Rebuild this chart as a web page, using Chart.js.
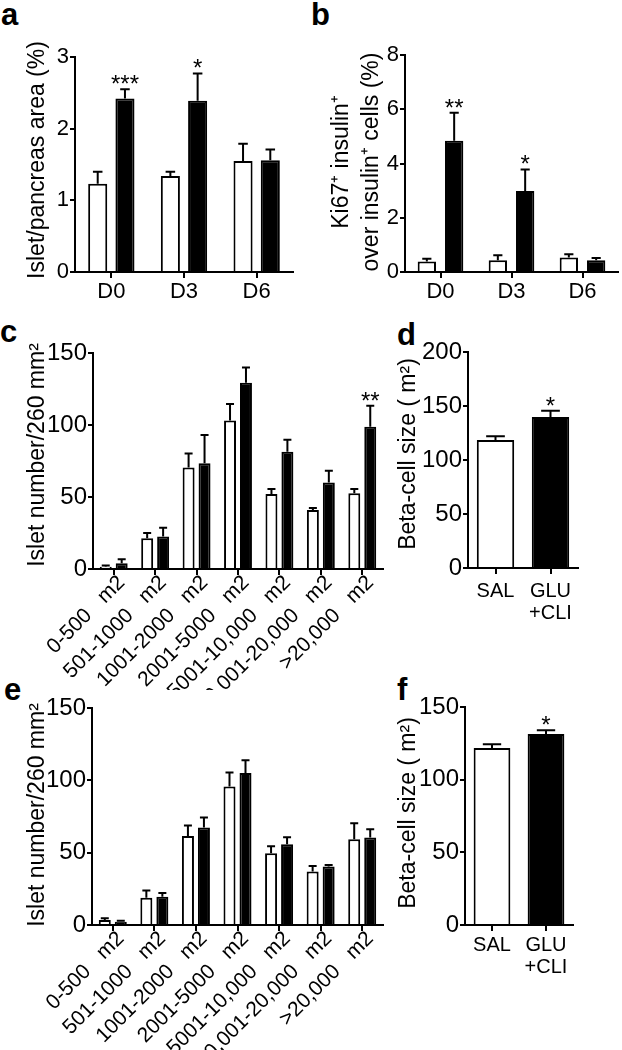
<!DOCTYPE html>
<html>
<head>
<meta charset="utf-8">
<script src="https://cdn.jsdelivr.net/npm/chart.js@4.4.1/dist/chart.umd.min.js"></script>
<style>
  html, body { margin: 0; padding: 0; background: #fff; }
  #page { position: relative; width: 622px; height: 1050px; overflow: hidden; }
  canvas { position: absolute; }
  .lbl { position: absolute; font: bold 31px "Liberation Sans", Arial, sans-serif; line-height: 31px; color: #000; }
</style>
</head>
<body>
<div id="page">
  <div class="lbl" style="left:1px;top:-1px">a</div>
  <div class="lbl" style="left:311px;top:-1px">b</div>
  <div class="lbl" style="left:0px;top:316px">c</div>
  <div class="lbl" style="left:397px;top:319px">d</div>
  <div class="lbl" style="left:4px;top:674px">e</div>
  <div class="lbl" style="left:397px;top:674px">f</div>

  <canvas id="chartA" width="300" height="292" style="left:0;top:30px"></canvas>
  <canvas id="chartB" width="300" height="292" style="left:322px;top:30px"></canvas>
  <canvas id="chartC" width="390" height="360" style="left:0;top:330px"></canvas>
  <canvas id="chartD" width="210" height="300" style="left:380px;top:330px"></canvas>
  <canvas id="chartE" width="390" height="365" style="left:0;top:685px"></canvas>
  <canvas id="chartF" width="210" height="300" style="left:380px;top:685px"></canvas>
</div>

<script>
// ---------- data ----------
const dayCats = ["D0", "D3", "D6"];

// a: islet / pancreas area (%)
const aSal = [1.23, 1.34, 1.55];
const aSalErr = [0.17, 0.06, 0.24];
const aGlu = [2.42, 2.39, 1.56];
const aGluErr = [0.13, 0.38, 0.15];
const aStars = ["***", "*", ""];

// b: Ki67+ insulin+ over insulin+ cells (%)
const bSal = [0.39, 0.43, 0.53];
const bSalErr = [0.10, 0.19, 0.12];
const bGlu = [4.84, 2.99, 0.43];
const bGluErr = [1.03, 0.79, 0.09];
const bStars = ["**", "*", ""];

// c / e: islet number per size class
const sizeCats = ["0-500   m2", "501-1000   m2", "1001-2000   m2", "2001-5000   m2",
                  "5001-10,000   m2", "10,001-20,000   m2", ">20,000   m2"];

const cSal = [1.6, 21.3, 70.5, 103.2, 52.0, 41.0, 52.6];
const cSalErr = [0.8, 3.7, 9.7, 11.3, 3.6, 1.4, 3.0];
const cGlu = [4.0, 22.5, 73.5, 129.4, 81.4, 60.0, 98.8];
const cGluErr = [2.7, 6.2, 19.5, 10.6, 8.3, 8.2, 14.6];
const cStars = ["", "", "", "", "", "", "**"];

const eSal = [3.5, 18.9, 61.6, 95.8, 49.6, 36.9, 59.3];
const eSalErr = [1.1, 4.9, 7.2, 9.7, 4.9, 3.9, 11.1];
const eGlu = [2.3, 19.6, 67.4, 105.0, 55.8, 40.4, 60.5];
const eGluErr = [0.7, 2.6, 6.9, 8.8, 4.9, 1.1, 5.7];

// d / f: beta-cell size
const groupCats = ["SAL", ["GLU", "+CLI"]];
const dVal = [118.5, 139.7];
const dErr = [3.5, 5.8];
const dStars = ["", "*"];
const fVal = [121.8, 131.4];
const fErr = [2.5, 2.6];
const fStars = ["", "*"];

// ---------- helpers ----------
const FONT = '"Liberation Sans", Arial, sans-serif';

const errorBars = {
  id: "errorBars",
  afterDatasetsDraw(chart) {
    const ctx = chart.ctx;
    const y = chart.scales.y;
    ctx.save();
    ctx.strokeStyle = "#000";
    ctx.fillStyle = "#000";
    ctx.lineWidth = 2;
    chart.data.datasets.forEach((ds, i) => {
      const meta = chart.getDatasetMeta(i);
      meta.data.forEach((bar, j) => {
        const v = ds.data[j];
        const e = ds.errors ? ds.errors[j] : 0;
        const top = y.getPixelForValue(v + e);
        const half = Math.max(bar.width / 4, 4);
        ctx.beginPath();
        ctx.moveTo(bar.x, bar.y);
        ctx.lineTo(bar.x, top);
        ctx.moveTo(bar.x - half, top);
        ctx.lineTo(bar.x + half, top);
        ctx.stroke();
        const s = ds.stars ? ds.stars[j] : "";
        if (s) {
          ctx.font = "24px " + FONT;
          ctx.textAlign = "center";
          ctx.textBaseline = "alphabetic";
          ctx.fillText(s, bar.x, top + 3);
        }
      });
    });
    ctx.restore();
  }
};

// rotated y-axis title, drawn without the width limit Chart.js applies
const yTitle = {
  id: "yTitle",
  afterDraw(chart, args, opts) {
    if (!opts.lines) return;
    const ctx = chart.ctx;
    ctx.save();
    ctx.fillStyle = "#000";
    ctx.font = opts.size + "px " + FONT;
    ctx.textAlign = "center";
    ctx.textBaseline = "middle";
    opts.lines.forEach((line, k) => {
      ctx.save();
      ctx.translate(opts.x + k * (opts.gap || 0), opts.y);
      ctx.rotate(-Math.PI / 2);
      ctx.fillText(line, 0, 0);
      ctx.restore();
    });
    ctx.restore();
  }
};

function makeChart(id, cfg) {
  const xScale = {
    type: "category",
    offset: true,
    grid: { offset: false, drawOnChartArea: false, drawTicks: true, tickLength: 6, color: "#000", lineWidth: 2 },
    border: { display: true, color: "#000", width: 2 },
    ticks: {
      color: "#000",
      font: { family: FONT, size: cfg.xFont, lineHeight: 1.12 },
      padding: cfg.xPad,
      labelOffset: cfg.xShift || 0,
      autoSkip: false,
      maxRotation: cfg.rot,
      minRotation: cfg.rot,
    },
    afterFit: (s) => { s.height = cfg.xH; },
  };
  const yScale = {
    min: 0,
    max: cfg.yMax,
    ticks: { stepSize: cfg.step, color: "#000", font: { family: FONT, size: cfg.yFont }, padding: 1 },
    grid: { drawOnChartArea: false, drawTicks: true, tickLength: 5, color: "#000", lineWidth: 2 },
    border: { display: true, color: "#000", width: 2 },
    afterFit: (s) => { s.width = cfg.yW; },
  };
  return new Chart(document.getElementById(id), {
    type: "bar",
    data: { labels: cfg.labels, datasets: cfg.datasets },
    options: {
      responsive: false,
      animation: false,
      devicePixelRatio: 1,
      layout: { padding: { top: cfg.padTop, right: cfg.padRight, left: 0, bottom: 0 } },
      plugins: {
        legend: { display: false },
        tooltip: { enabled: false },
        yTitle: cfg.title,
      },
      scales: { x: xScale, y: yScale },
    },
    plugins: [errorBars, yTitle],
  });
}

function pair(sal, salErr, glu, gluErr, stars, catPct, barPct) {
  return [
    { data: sal, errors: salErr, backgroundColor: "#fff", borderColor: "#000", borderWidth: 2,
      categoryPercentage: catPct, barPercentage: barPct },
    { data: glu, errors: gluErr, stars: stars, backgroundColor: "#000", borderColor: "#000", borderWidth: 2,
      categoryPercentage: catPct, barPercentage: barPct },
  ];
}

function single(vals, errs, stars) {
  return [{ data: vals, errors: errs, stars: stars, backgroundColor: ["#fff", "#000"], borderColor: "#000",
            borderWidth: 2, categoryPercentage: 1, barPercentage: 0.68 }];
}

// ---------- panels ----------
makeChart("chartA", {
  labels: dayCats, datasets: pair(aSal, aSalErr, aGlu, aGluErr, aStars, 0.75, 0.7),
  yMax: 3, step: 1, yW: 75, xH: 50, padTop: 27, padRight: 7,
  title: { lines: ["Islet/pancreas area (%)"], size: 23, x: 38, y: 130 },
  yFont: 22, xFont: 22, xPad: 2, rot: 0,
});

makeChart("chartB", {
  labels: dayCats, datasets: pair(bSal, bSalErr, bGlu, bGluErr, bStars, 0.77, 0.67),
  yMax: 8, step: 2, yW: 83, xH: 50, padTop: 25, padRight: 4,
  title: { lines: ["Ki67\u207A insulin\u207A", "over insulin\u207A cells (%)"], size: 23, x: 20, y: 132, gap: 30 },
  yFont: 22, xFont: 22, xPad: 2, rot: 0,
});

makeChart("chartC", {
  labels: sizeCats, datasets: pair(cSal, cSalErr, cGlu, cGluErr, cStars, 0.77, 0.75),
  yMax: 150, step: 50, yW: 93, xH: 121, padTop: 23, padRight: 7,
  title: { lines: ["Islet number/260 mm\u00B2"], size: 23, x: 38, y: 125 },
  yFont: 24, xFont: 21, xPad: -4, xShift: 8, rot: 45,
});

makeChart("chartD", {
  labels: groupCats, datasets: single(dVal, dErr, dStars),
  yMax: 200, step: 50, yW: 88, xH: 62, padTop: 22, padRight: 12,
  title: { lines: ["Beta-cell size ( m\u00B2)"], size: 23, x: 29, y: 124 },
  yFont: 24, xFont: 20, xPad: 6, rot: 0,
});

makeChart("chartE", {
  labels: sizeCats, datasets: pair(eSal, eSalErr, eGlu, eGluErr, null, 0.77, 0.75),
  yMax: 150, step: 50, yW: 92, xH: 125, padTop: 23, padRight: 7,
  title: { lines: ["Islet number/260 mm\u00B2"], size: 23, x: 38, y: 130 },
  yFont: 24, xFont: 21, xPad: -4, xShift: 8, rot: 45,
});

makeChart("chartF", {
  labels: groupCats, datasets: single(fVal, fErr, fStars),
  yMax: 150, step: 50, yW: 85, xH: 60, padTop: 22, padRight: 17,
  title: { lines: ["Beta-cell size ( m\u00B2)"], size: 23, x: 29, y: 128 },
  yFont: 24, xFont: 20, xPad: 3, rot: 0,
});
</script>
</body>
</html>
